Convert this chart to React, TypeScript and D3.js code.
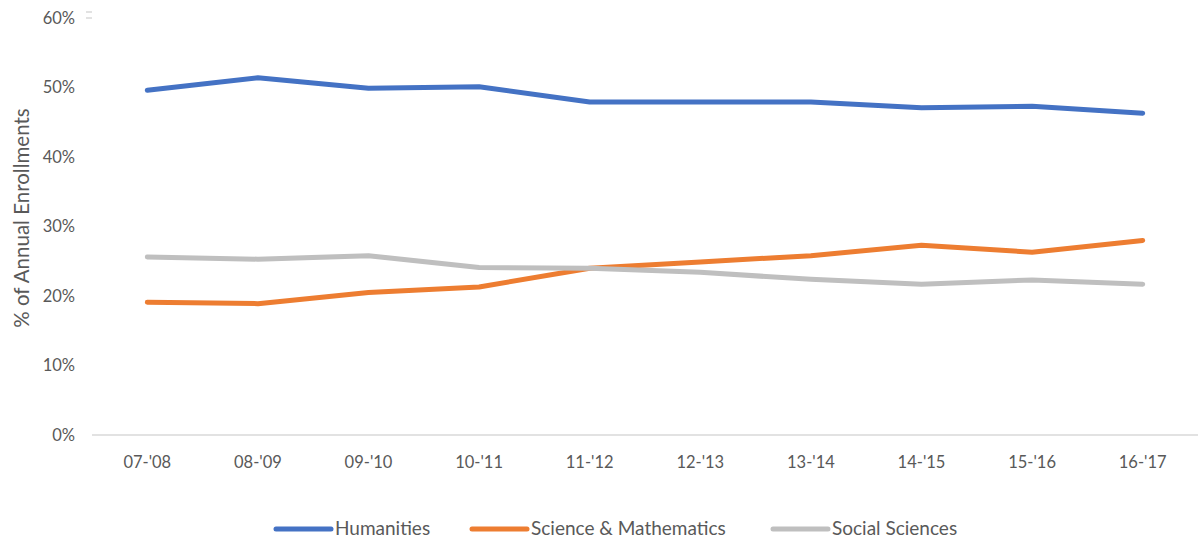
import React from "react";
import * as d3 from "d3";

const categories = ["07-'08", "08-'09", "09-'10", "10-'11", "11-'12", "12-'13", "13-'14", "14-'15", "15-'16", "16-'17"];
const humanities = [49.6, 51.4, 49.9, 50.1, 47.9, 47.9, 47.9, 47.1, 47.3, 46.3];
const science = [19.1, 18.9, 20.5, 21.3, 24.0, 24.9, 25.8, 27.3, 26.3, 28.0];
const social = [25.6, 25.3, 25.8, 24.1, 24.0, 23.4, 22.4, 21.7, 22.3, 21.7];
const yTicks = [0, 10, 20, 30, 40, 50, 60];

const seriesList = [
  { name: "Humanities", values: humanities, color: "#4472C4" },
  { name: "Science & Mathematics", values: science, color: "#ED7D31" },
  { name: "Social Sciences", values: social, color: "#BFBFBF" },
];

const legendPos = [276, 472, 773];

export default function App() {
  const W = 1199, H = 539;
  const left = 92, right = 1198, top = 18, bottom = 435;
  const x = d3.scaleBand<string>().domain(categories).range([left, right]);
  const y = d3.scaleLinear().domain([0, 60]).range([bottom, top]);
  const line = d3
    .line<number>()
    .x((_, i) => (x(categories[i]) as number) + x.bandwidth() / 2)
    .y((d) => y(d));
  const font = "Lato, 'Open Sans', sans-serif";
  const legY = 528;
  return (
    <svg width={W} height={H} style={{ position: "absolute", left: 0, top: 0, background: "#fff" }} fontFamily={font}>
      <line x1={86} x2={92} y1={12} y2={12} stroke="#d9d9d9" strokeWidth={1.5} />
      <line x1={86} x2={92} y1={18} y2={18} stroke="#d9d9d9" strokeWidth={1.5} />
      {yTicks.map((t) => (
        <text key={t} x={75} y={y(t)} dy="0.35em" textAnchor="end" fontSize={16.5} fill="#595959">
          {t}%
        </text>
      ))}
      <line x1={left} x2={right} y1={bottom} y2={bottom} stroke="#d9d9d9" strokeWidth={1.5} />
      {categories.map((c) => (
        <text key={c} x={(x(c) as number) + x.bandwidth() / 2} y={462} dy="0.35em" textAnchor="middle" fontSize={16.5} fill="#595959">
          {c}
        </text>
      ))}
      <text transform={`translate(22,218) rotate(-90)`} textAnchor="middle" dy="0.35em" fontSize={20.5} fill="#595959">
        % of Annual Enrollments
      </text>
      {seriesList.map((s) => (
        <path key={s.name} d={line(s.values) || ""} fill="none" stroke={s.color} strokeWidth={5} strokeLinecap="round" strokeLinejoin="round" />
      ))}
      {seriesList.map((s, i) => (
        <g key={s.name}>
          <line x1={legendPos[i]} x2={legendPos[i] + 55} y1={legY + 1} y2={legY + 1} stroke={s.color} strokeWidth={5} strokeLinecap="round" />
          <text x={legendPos[i] + 59} y={legY} dy="0.35em" fontSize={19} fill="#595959">
            {s.name}
          </text>
        </g>
      ))}
    </svg>
  );
}
